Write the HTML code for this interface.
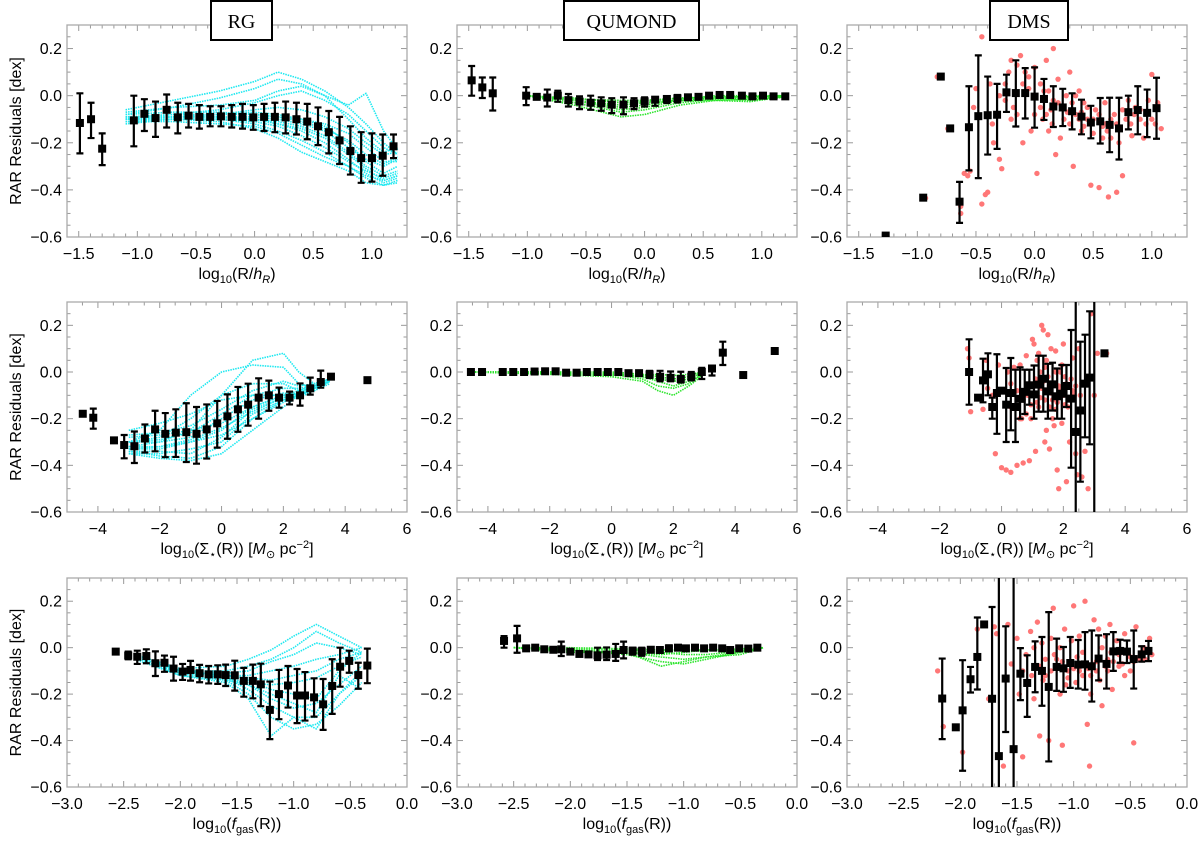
<!DOCTYPE html>
<html><head><meta charset="utf-8"><style>
html,body{margin:0;padding:0;background:#fff}
svg{display:block;font-family:"Liberation Sans",sans-serif}
</style></head><body>
<svg id="fig" width="1200" height="845" viewBox="0 0 1200 845" xmlns="http://www.w3.org/2000/svg"></svg>
<script>
// ---------- DATA ----------
// Row 1: log10(R/hR)
const rgRX=[-1.49,-1.395,-1.30,-1.03,-0.94,-0.845,-0.75,-0.655,-0.563,-0.471,-0.379,-0.287,-0.195,-0.103,-0.011,0.081,0.173,0.265,0.357,0.449,0.541,0.633,0.725,0.817,0.909,1.001,1.093,1.185];
const rgRY=[-0.116,-0.10,-0.225,-0.105,-0.077,-0.095,-0.06,-0.092,-0.085,-0.09,-0.09,-0.088,-0.09,-0.09,-0.092,-0.09,-0.09,-0.092,-0.10,-0.11,-0.13,-0.155,-0.19,-0.235,-0.265,-0.265,-0.255,-0.215];
const rgRHi=[0.01,-0.03,-0.16,0.0,-0.015,-0.025,0.005,-0.03,-0.035,-0.04,-0.045,-0.045,-0.04,-0.035,-0.04,-0.035,-0.03,-0.025,-0.03,-0.035,-0.05,-0.065,-0.09,-0.13,-0.155,-0.16,-0.165,-0.165];
const rgRLo=[-0.245,-0.18,-0.295,-0.215,-0.15,-0.175,-0.135,-0.16,-0.135,-0.14,-0.13,-0.13,-0.135,-0.14,-0.145,-0.15,-0.155,-0.16,-0.165,-0.185,-0.21,-0.245,-0.29,-0.335,-0.37,-0.365,-0.34,-0.265];
const rgRCurveX=[-1.1,-0.7,-0.3,0,0.2,0.4,0.6,0.8,0.95,1.1,1.22];
const rgRCurves=[
[-0.06,-0.02,0.02,0.06,0.1,0.07,0.02,-0.05,-0.12,-0.2,-0.25],
[-0.08,-0.05,-0.01,0.03,0.07,0.05,0.0,-0.04,0.01,-0.15,-0.23],
[-0.1,-0.08,-0.06,-0.03,0.0,0.02,-0.02,-0.08,-0.15,-0.22,-0.25],
[-0.1,-0.09,-0.08,-0.07,-0.08,-0.1,-0.13,-0.2,-0.28,-0.33,-0.3],
[-0.12,-0.1,-0.1,-0.1,-0.12,-0.15,-0.2,-0.27,-0.33,-0.37,-0.35],
[-0.1,-0.1,-0.11,-0.14,-0.18,-0.24,-0.28,-0.32,-0.37,-0.38,-0.36],
[-0.09,-0.09,-0.09,-0.1,-0.11,-0.13,-0.17,-0.24,-0.3,-0.34,-0.32],
[-0.11,-0.1,-0.1,-0.12,-0.15,-0.19,-0.24,-0.3,-0.35,-0.38,-0.37],
[-0.08,-0.07,-0.07,-0.08,-0.09,-0.1,-0.12,-0.16,-0.22,-0.28,-0.28],
[-0.1,-0.09,-0.09,-0.09,-0.1,-0.12,-0.15,-0.22,-0.27,-0.3,-0.27],
[-0.09,-0.08,-0.08,-0.08,-0.09,-0.11,-0.14,-0.19,-0.25,-0.29,-0.26],
[-0.1,-0.1,-0.1,-0.11,-0.13,-0.17,-0.22,-0.28,-0.32,-0.35,-0.33],
[-0.09,-0.09,-0.08,-0.06,-0.05,-0.06,-0.09,-0.14,-0.2,-0.25,-0.24],
[-0.11,-0.11,-0.12,-0.13,-0.16,-0.21,-0.26,-0.3,-0.34,-0.36,-0.34],
[-0.07,-0.05,-0.04,-0.02,0.02,0.04,0.0,-0.1,-0.18,-0.24,-0.22],
[-0.1,-0.09,-0.09,-0.1,-0.12,-0.14,-0.18,-0.25,-0.31,-0.36,-0.34]];
const quRX=[-1.475,-1.384,-1.295,-1.01,-0.92,-0.83,-0.74,-0.65,-0.555,-0.46,-0.37,-0.28,-0.18,-0.09,0.0,0.09,0.19,0.28,0.37,0.46,0.55,0.64,0.73,0.83,0.92,1.01,1.1,1.2];
const quRY=[0.065,0.035,0.01,0.0,-0.005,-0.008,0.0,-0.019,-0.025,-0.03,-0.033,-0.038,-0.038,-0.033,-0.024,-0.017,-0.014,-0.011,-0.007,-0.005,0,0.003,0.003,0,-0.003,0,-0.003,-0.003];
const quRHi=[0.126,0.077,0.077,0.036,-0.005,0.026,0.021,0.007,-0.003,0.0,-0.007,-0.011,-0.007,-0.011,-0.007,-0.007,-0.003,0.003,-0.007,-0.005,0,0.003,0.003,0,-0.003,0,-0.003,-0.003];
const quRLo=[0.0,-0.01,-0.063,-0.04,-0.005,-0.046,-0.026,-0.046,-0.057,-0.06,-0.064,-0.074,-0.079,-0.057,-0.046,-0.043,-0.031,-0.029,-0.007,-0.005,0,0.003,0.003,0,-0.003,0,-0.003,-0.003];
const quRCurveX=[-1.0,-0.6,-0.2,0,0.3,0.6,0.9,1.2];
const quRCurves=[[0,-0.02,-0.05,-0.04,-0.015,0,0,0],[0,-0.03,-0.07,-0.06,-0.03,-0.015,-0.01,0],[0,-0.02,-0.04,-0.03,-0.02,-0.02,-0.025,-0.005],[0,-0.01,-0.03,-0.025,-0.01,-0.005,-0.005,0],[0,-0.04,-0.09,-0.08,-0.04,-0.02,-0.015,-0.005],[0,-0.015,-0.02,-0.02,-0.01,-0.01,-0.02,-0.005],[0,-0.02,-0.06,-0.05,-0.02,-0.01,-0.005,0]];
const dmRX=[-1.27,-0.95,-0.80,-0.72,-0.64,-0.56,-0.48,-0.40,-0.32,-0.24,-0.16,-0.08,0.0,0.08,0.16,0.24,0.32,0.40,0.48,0.56,0.64,0.72,0.80,0.88,0.96,1.04];
const dmRY=[-0.594,-0.433,0.081,-0.139,-0.45,-0.134,-0.087,-0.083,-0.081,0.014,0.011,0.011,-0.004,-0.014,-0.046,-0.05,-0.066,-0.089,-0.114,-0.109,-0.124,-0.139,-0.07,-0.061,-0.073,-0.053];
const dmRHi=[-0.594,-0.433,0.081,-0.139,-0.366,0.04,0.171,0.081,0.05,0.089,0.15,0.117,0.12,0.071,0.04,0.029,0.01,-0.017,-0.043,-0.01,-0.009,-0.009,-0.0,0.04,0.026,0.076];
const dmRLo=[-0.594,-0.433,0.081,-0.139,-0.54,-0.317,-0.35,-0.25,-0.226,-0.069,-0.131,-0.097,-0.136,-0.103,-0.133,-0.129,-0.143,-0.164,-0.181,-0.203,-0.24,-0.271,-0.143,-0.164,-0.176,-0.183];
const dmRPts=[[-0.83,0.08],[-0.74,-0.14],[-0.93,-0.435],[-0.63,-0.47],[-0.63,-0.5],[-0.6,-0.33],[-0.57,-0.34],[-0.55,-0.32],[-0.52,-0.05],[-0.5,0.03],[-0.45,-0.46],[-0.42,-0.42],[-0.4,-0.41],[-0.38,0.05],[-0.36,-0.12],[-0.35,-0.2],[-0.3,-0.27],[-0.28,-0.31],[-0.25,0.05],[-0.22,0.1],[-0.2,0.15],[-0.18,-0.05],[-0.15,0.13],[-0.12,0.17],[-0.1,-0.2],[-0.08,0.1],[-0.05,0.03],[-0.03,-0.15],[0.0,0.12],[0.02,-0.33],[0.05,0.05],[0.07,-0.1],[0.1,0.15],[0.12,0.02],[0.14,-0.06],[0.16,0.2],[0.18,-0.25],[0.2,0.07],[0.22,-0.18],[0.25,-0.05],[0.27,0.0],[0.3,0.1],[0.3,-0.12],[0.33,-0.3],[0.35,-0.08],[0.38,0.02],[0.4,-0.15],[0.42,-0.03],[0.45,-0.1],[0.48,-0.38],[0.5,-0.16],[0.52,-0.06],[0.55,-0.39],[0.58,-0.13],[0.6,-0.03],[0.63,-0.43],[0.65,-0.18],[0.68,-0.08],[0.7,-0.41],[0.72,-0.2],[0.75,-0.34],[0.78,-0.1],[0.8,-0.02],[0.83,-0.17],[0.86,-0.05],[0.9,-0.1],[0.93,-0.18],[0.97,-0.02],[1.0,0.09],[1.03,-0.12],[1.08,-0.14],[-0.45,0.25],[0.16,-0.02],[0.1,-0.08],[0.35,0.0],[0.45,-0.05],[0.25,-0.1],[-0.15,-0.08],[0.05,-0.05],[0.6,-0.12],[0.0,0.0],[0.2,-0.03],[0.4,-0.07],[-0.3,0.0],[-0.2,-0.1],[0.5,-0.1],[0.7,-0.12],[0.85,-0.08],[-0.1,0.05],[0.0,-0.08],[0.15,-0.12],[0.28,-0.07],[0.42,-0.13],[0.55,-0.08],[0.65,-0.1],[0.75,-0.06],[0.9,-0.06],[1.0,-0.1],[-0.05,0.08],[0.08,0.02],[0.32,-0.03],[0.48,-0.12],[0.62,-0.15],[0.95,-0.12],[-0.25,-0.02],[0.12,-0.15],[0.38,-0.1],[0.58,-0.18],[0.82,-0.12],[1.05,-0.03]];
// Row 2: log10 Sigma
const rgSX=[-4.49,-4.15,-3.48,-3.15,-2.82,-2.48,-2.15,-1.82,-1.48,-1.14,-0.81,-0.48,-0.14,0.19,0.53,0.86,1.2,1.53,1.86,2.2,2.54,2.87,3.21,3.54,4.72];
const rgSY=[-0.179,-0.196,-0.293,-0.313,-0.318,-0.285,-0.246,-0.265,-0.26,-0.258,-0.265,-0.246,-0.22,-0.19,-0.16,-0.14,-0.11,-0.10,-0.11,-0.11,-0.10,-0.07,-0.043,-0.02,-0.035];
const rgSHi=[-0.179,-0.157,-0.293,-0.27,-0.255,-0.225,-0.166,-0.176,-0.16,-0.134,-0.15,-0.139,-0.124,-0.096,-0.064,-0.05,-0.027,-0.037,-0.067,-0.084,-0.049,-0.024,0.006,-0.02,-0.035];
const rgSLo=[-0.179,-0.243,-0.293,-0.37,-0.39,-0.345,-0.34,-0.365,-0.364,-0.386,-0.393,-0.371,-0.324,-0.286,-0.256,-0.23,-0.2,-0.166,-0.153,-0.139,-0.144,-0.097,-0.067,-0.02,-0.035];
const rgSCurveX=[-3,-2,-1,0,1,2,2.5,3,3.5];
const rgSCurves=[[-0.33,-0.33,-0.3,-0.25,-0.15,-0.1,-0.08,-0.05,-0.03],[-0.3,-0.28,-0.2,-0.1,-0.05,-0.05,-0.08,-0.06,-0.03],[-0.3,-0.25,-0.1,0.0,0.03,0.02,-0.05,-0.07,-0.04],[-0.32,-0.3,-0.25,-0.1,0.05,0.08,0.0,-0.05,-0.03],[-0.35,-0.37,-0.38,-0.35,-0.25,-0.15,-0.1,-0.07,-0.04],[-0.34,-0.36,-0.37,-0.32,-0.2,-0.12,-0.1,-0.08,-0.04],[-0.3,-0.3,-0.28,-0.2,-0.12,-0.09,-0.1,-0.07,-0.04],[-0.25,-0.22,-0.18,-0.12,-0.1,-0.1,-0.11,-0.08,-0.05],[-0.28,-0.27,-0.25,-0.22,-0.15,-0.1,-0.09,-0.06,-0.04],[-0.35,-0.35,-0.33,-0.3,-0.18,-0.12,-0.1,-0.07,-0.04],[-0.32,-0.32,-0.3,-0.27,-0.2,-0.13,-0.1,-0.07,-0.04],[-0.3,-0.29,-0.26,-0.18,-0.1,-0.07,-0.07,-0.06,-0.03],[-0.34,-0.34,-0.35,-0.28,-0.16,-0.11,-0.09,-0.06,-0.04],[-0.27,-0.26,-0.23,-0.16,-0.08,-0.04,-0.06,-0.05,-0.03],[-0.33,-0.32,-0.29,-0.24,-0.17,-0.11,-0.09,-0.06,-0.03]];
const quSX=[-4.55,-4.19,-3.52,-3.18,-2.83,-2.49,-2.15,-1.81,-1.47,-1.13,-0.8,-0.45,-0.12,0.22,0.55,0.89,1.23,1.57,1.91,2.24,2.58,2.92,3.25,3.6,4.26,5.28];
const quSY=[0,0,0,0,0,0.002,0.003,0.003,-0.003,-0.003,0,0,0,0,-0.005,-0.005,-0.01,-0.02,-0.025,-0.03,-0.02,0.0,0.015,0.083,-0.013,0.09];
const quSHi=[0,0,0,0,0,0.002,0.003,0.003,-0.003,-0.003,0,0,0,0,-0.005,-0.005,0.005,0.005,0.002,0.001,0.0,0.018,0.026,0.13,-0.013,0.09];
const quSLo=[0,0,0,0,0,0.002,0.003,0.003,-0.003,-0.003,0,0,0,0,-0.005,-0.005,-0.026,-0.04,-0.04,-0.045,-0.036,-0.03,-0.015,0.03,-0.013,0.09];
const quSCurveX=[-4.5,-2,0,1,1.5,2,2.5,3];
const quSCurves=[[0,0,0,-0.01,-0.02,-0.03,-0.02,0],[0,0,-0.005,-0.02,-0.04,-0.06,-0.04,-0.01],[0,0,-0.01,-0.03,-0.06,-0.07,-0.05,0],[0,-0.003,-0.015,-0.015,-0.01,-0.015,-0.01,0],[0,-0.01,-0.02,-0.04,-0.08,-0.1,-0.06,-0.01],[0,-0.005,-0.01,-0.02,-0.03,-0.04,-0.03,0]];
const dmSX=[-1.05,-0.76,-0.6,-0.44,-0.3,-0.15,0.0,0.15,0.3,0.45,0.6,0.75,0.9,1.05,1.2,1.35,1.5,1.65,1.8,1.95,2.1,2.25,2.4,2.55,2.7,2.85,3.0,3.33];
const dmSY=[0,-0.11,-0.036,-0.01,-0.15,-0.09,-0.08,-0.14,-0.09,-0.15,-0.115,-0.085,-0.057,-0.096,-0.054,-0.029,-0.083,-0.053,-0.104,-0.093,-0.06,-0.114,-0.257,-0.165,-0.05,-0.024,-0.75,0.08];
const dmSHi=[0.14,-0.11,0.057,0.08,-0.11,0.076,-0.08,0.017,0.06,0.01,0.02,0.01,0.01,0.028,0.07,0.07,0.035,0.04,0.015,0.03,0.03,0.18,0.5,0.13,0.16,0.26,0.5,0.08];
const dmSLo=[-0.14,-0.11,-0.13,-0.1,-0.2,-0.265,-0.08,-0.3,-0.25,-0.3,-0.2,-0.18,-0.14,-0.2,-0.17,-0.17,-0.2,-0.165,-0.2,-0.2,-0.15,-0.41,-0.9,-0.47,-0.28,-0.31,-0.9,0.08];
const dmSPts=[[-1.1,0.1],[-1.05,0.06],[-1.0,-0.17],[-0.6,-0.16],[-0.5,0.05],[-0.45,-0.07],[-0.3,-0.1],[-0.2,-0.35],[-0.1,0.03],[0.0,-0.41],[0.15,-0.42],[0.3,-0.43],[0.2,-0.0],[0.3,-0.05],[0.4,0.02],[0.5,-0.4],[0.6,0.03],[0.65,-0.2],[0.7,-0.39],[0.8,0.07],[0.9,-0.38],[0.95,-0.2],[1.0,0.14],[1.05,0.12],[1.1,-0.34],[1.2,0.08],[1.3,0.2],[1.35,0.18],[1.4,-0.3],[1.45,-0.25],[1.5,0.16],[1.55,-0.33],[1.6,0.1],[1.65,-0.2],[1.7,-0.23],[1.75,0.09],[1.8,-0.42],[1.85,-0.5],[1.9,0.0],[1.95,-0.22],[2.0,0.12],[2.1,-0.47],[2.2,-0.3],[2.3,0.06],[2.4,-0.35],[2.45,-0.44],[2.5,0.1],[2.55,-0.1],[2.6,-0.45],[2.7,-0.34],[2.8,-0.5],[2.9,0.25],[3.0,-0.1],[3.1,0.08],[3.4,0.08],[0.5,-0.08],[0.7,-0.12],[0.9,-0.05],[1.0,-0.1],[1.1,-0.03],[1.2,-0.15],[1.3,-0.07],[1.4,-0.12],[1.5,-0.02],[1.6,-0.09],[1.7,-0.05],[1.8,-0.13],[1.9,-0.08],[2.0,-0.1],[2.1,-0.05],[2.2,-0.12],[2.3,-0.08],[0.8,-0.18],[1.25,0.0],[1.45,0.05],[1.95,0.03],[2.15,-0.15],[0.3,-0.15],[0.6,-0.2],[1.15,0.05],[1.55,-0.15],[1.75,0.0],[2.05,-0.02],[2.35,-0.1],[2.6,-0.05],[0.85,-0.1],[1.05,-0.06],[1.25,-0.11],[1.35,-0.04],[1.65,-0.12],[1.85,-0.06],[2.05,-0.14],[2.25,-0.03],[1.15,-0.13],[1.55,-0.06],[1.75,-0.16],[1.95,-0.1],[0.95,-0.14],[1.4,0.02],[2.4,-0.06]];
// Row 3: log10 fgas
const rgFX=[-2.57,-2.46,-2.38,-2.3,-2.22,-2.14,-2.06,-1.98,-1.91,-1.83,-1.75,-1.67,-1.6,-1.52,-1.44,-1.36,-1.29,-1.21,-1.13,-1.05,-0.97,-0.9,-0.82,-0.74,-0.66,-0.59,-0.51,-0.43,-0.35];
const rgFY=[-0.017,-0.034,-0.039,-0.036,-0.067,-0.065,-0.09,-0.103,-0.096,-0.11,-0.115,-0.115,-0.118,-0.119,-0.143,-0.143,-0.158,-0.268,-0.2,-0.163,-0.206,-0.206,-0.214,-0.244,-0.165,-0.082,-0.057,-0.118,-0.077];
const rgFHi=[-0.017,-0.017,-0.013,-0.007,-0.016,-0.034,-0.039,-0.07,-0.057,-0.074,-0.079,-0.076,-0.073,-0.056,-0.087,-0.073,-0.069,-0.146,-0.096,-0.079,-0.092,-0.105,-0.132,-0.135,-0.05,0.0,-0.013,-0.065,-0.004];
const rgFLo=[-0.017,-0.05,-0.07,-0.067,-0.122,-0.104,-0.142,-0.139,-0.142,-0.149,-0.154,-0.156,-0.165,-0.185,-0.211,-0.218,-0.252,-0.394,-0.308,-0.258,-0.325,-0.314,-0.297,-0.354,-0.285,-0.168,-0.108,-0.177,-0.153];
const rgFCurveX=[-2.4,-2.0,-1.6,-1.4,-1.2,-1.0,-0.8,-0.6,-0.4];
const rgFCurves=[[-0.03,-0.09,-0.08,-0.05,-0.01,0.05,0.1,0.05,0.0],[-0.03,-0.1,-0.1,-0.08,-0.05,0.0,0.07,0.02,-0.02],[-0.03,-0.1,-0.12,-0.13,-0.14,-0.12,-0.1,-0.05,-0.02],[-0.04,-0.11,-0.13,-0.18,-0.25,-0.3,-0.3,-0.2,-0.1],[-0.04,-0.11,-0.14,-0.2,-0.3,-0.35,-0.33,-0.25,-0.15],[-0.04,-0.12,-0.15,-0.22,-0.38,-0.3,-0.35,-0.2,-0.12],[-0.04,-0.1,-0.12,-0.14,-0.18,-0.2,-0.22,-0.1,-0.02],[-0.03,-0.1,-0.12,-0.12,-0.1,-0.08,-0.05,-0.03,0.0],[-0.05,-0.12,-0.14,-0.16,-0.2,-0.24,-0.28,-0.12,-0.18],[-0.04,-0.1,-0.13,-0.15,-0.16,-0.15,-0.13,-0.08,-0.04],[-0.04,-0.11,-0.13,-0.16,-0.22,-0.26,-0.24,-0.16,-0.08],[-0.03,-0.1,-0.11,-0.1,-0.06,-0.03,0.02,0.0,-0.03]];
const quFX=[-2.585,-2.47,-2.39,-2.31,-2.23,-2.15,-2.08,-2.0,-1.92,-1.84,-1.76,-1.68,-1.6,-1.53,-1.45,-1.37,-1.29,-1.21,-1.13,-1.05,-0.98,-0.9,-0.82,-0.74,-0.66,-0.59,-0.51,-0.43,-0.35];
const quFY=[0.029,0.04,-0.003,0.0,-0.007,-0.009,-0.007,-0.017,-0.027,-0.029,-0.033,-0.03,-0.027,-0.01,-0.013,-0.016,-0.009,-0.01,-0.003,0.0,-0.003,0,-0.003,0,-0.003,-0.01,-0.003,-0.004,0];
const quFHi=[0.05,0.094,-0.003,0.0,-0.007,-0.009,0.026,-0.017,-0.027,-0.029,-0.0,0.001,0.016,0.026,0.0,0.0,0.0,-0.01,0.01,0.0,-0.003,0,-0.003,0,0.0,-0.01,-0.003,-0.004,0];
const quFLo=[0.0,-0.022,-0.003,0.0,-0.007,-0.009,-0.036,-0.017,-0.027,-0.029,-0.053,-0.053,-0.057,-0.046,-0.03,-0.035,-0.02,-0.01,-0.015,0.0,-0.003,0,-0.003,0,-0.01,-0.01,-0.003,-0.004,0];
const quFCurveX=[-2.5,-2.0,-1.5,-1.2,-1.0,-0.8,-0.5,-0.3];
const quFCurves=[[0,-0.01,-0.02,-0.03,-0.02,-0.01,-0.005,0],[0,-0.01,-0.03,-0.06,-0.07,-0.05,-0.02,0],[0,-0.02,-0.02,-0.04,-0.05,-0.04,-0.03,0],[0,0,-0.005,-0.01,-0.01,-0.01,-0.01,0],[0,-0.01,-0.02,-0.08,-0.06,-0.04,-0.02,0],[0,-0.005,-0.01,-0.02,-0.03,-0.03,-0.015,0]];
const dmFX=[-2.16,-2.04,-1.98,-1.91,-1.85,-1.79,-1.72,-1.66,-1.6,-1.53,-1.47,-1.41,-1.34,-1.28,-1.22,-1.15,-1.09,-1.03,-0.96,-0.9,-0.84,-0.78,-0.71,-0.65,-0.59,-0.53,-0.47,-0.4,-0.34];
const dmFY=[-0.219,-0.343,-0.27,-0.136,-0.04,0.1,-0.22,-0.467,-0.133,-0.437,-0.112,-0.152,-0.083,-0.1,-0.169,-0.083,-0.089,-0.066,-0.073,-0.072,-0.08,-0.047,-0.07,-0.016,-0.014,-0.017,-0.049,-0.029,-0.014];
const dmFHi=[-0.047,-0.343,-0.054,-0.083,0.13,0.1,0.175,0.5,0.092,0.5,-0.002,-0.033,0.027,0.046,0.153,0.039,0.003,0.046,0.033,0.067,0.074,0.053,0.058,0.067,0.034,0.031,0.074,0.006,0.029];
const dmFLo=[-0.394,-0.343,-0.53,-0.193,-0.18,0.1,-0.9,-0.9,-0.363,-0.9,-0.226,-0.298,-0.192,-0.25,-0.49,-0.186,-0.19,-0.173,-0.176,-0.181,-0.232,-0.141,-0.176,-0.1,-0.065,-0.066,-0.176,-0.06,-0.058];
const dmFPts=[[-2.2,-0.1],[-2.15,-0.34],[-1.98,-0.45],[-1.85,0.08],[-1.75,-0.22],[-1.7,0.09],[-1.68,0.06],[-1.62,-0.51],[-1.58,0.1],[-1.55,-0.07],[-1.5,0.04],[-1.48,-0.2],[-1.45,-0.47],[-1.42,-0.03],[-1.4,-0.15],[-1.38,0.07],[-1.35,-0.22],[-1.32,0.11],[-1.3,-0.38],[-1.28,0.02],[-1.25,-0.12],[-1.22,-0.4],[-1.2,0.04],[-1.18,0.17],[-1.15,-0.05],[-1.12,-0.2],[-1.1,-0.42],[-1.08,0.08],[-1.05,-0.1],[-1.02,0.03],[-1.0,0.18],[-0.98,-0.15],[-0.95,0.05],[-0.92,-0.02],[-0.9,0.2],[-0.88,-0.33],[-0.86,-0.51],[-0.85,-0.2],[-0.82,0.12],[-0.8,-0.1],[-0.78,0.08],[-0.75,-0.25],[-0.72,0.05],[-0.7,-0.05],[-0.68,0.1],[-0.66,-0.18],[-0.62,0.03],[-0.6,-0.08],[-0.55,0.06],[-0.5,-0.1],[-0.47,-0.41],[-0.45,0.09],[-0.42,-0.05],[-0.38,0.0],[-0.33,0.04],[-0.31,-0.03],[-1.3,-0.08],[-1.2,-0.1],[-1.1,-0.06],[-1.0,-0.09],[-0.9,-0.07],[-0.8,-0.06],[-0.7,-0.1],[-0.6,-0.03],[-0.5,-0.04],[-1.25,-0.05],[-1.05,-0.13],[-0.85,-0.12],[-0.65,-0.06],[-0.95,-0.1],[-1.15,-0.08],[-0.4,-0.02],[-1.35,0.0],[-0.75,0.0],[-0.55,-0.12],[-1.45,-0.1],[-1.27,-0.14],[-1.17,-0.03],[-1.07,-0.16],[-0.97,-0.04],[-0.87,-0.09],[-0.77,-0.14],[-0.67,-0.02],[-0.57,-0.07],[-0.47,-0.06],[-0.37,-0.05],[-1.37,-0.12],[-1.12,0.0],[-0.92,-0.12],[-0.72,-0.08]];
const xTicksR=[-1.5,-1.0,-0.5,0.0,0.5,1.0];
const xTicksS=[-4,-2,0,2,4,6];
const xTicksF=[-3.0,-2.5,-2.0,-1.5,-1.0,-0.5,0.0];
const yTicks=[-0.6,-0.4,-0.2,0.0,0.2];

// ---------- DRAWING ----------
const svg=document.getElementById('fig');
const NS='http://www.w3.org/2000/svg';
function mk(tag,attrs,parent){const e=document.createElementNS(NS,tag);for(const k in attrs)e.setAttribute(k,attrs[k]);(parent||svg).appendChild(e);return e;}
const colL=[67,457,847];
const rowT=[25,302,578], rowB=[237,512,787];
const xDom=[[-1.6,1.3],[-5,6],[-3,0]];
const xMinor=[0.1,0.5,0.1];
const xTicksAll=[xTicksR,xTicksS,xTicksF];
const xDec=[1,0,1];
const xTitles=['log<tspan font-size="11" dy="4">10</tspan><tspan dy="-4">(R/</tspan><tspan font-style="italic">h</tspan><tspan font-size="11" font-style="italic" dy="4">R</tspan><tspan dy="-4">)</tspan>',
 'log<tspan font-size="11" dy="4">10</tspan><tspan dy="-4">(Σ</tspan><tspan font-size="11" dy="4">⋆</tspan><tspan dy="-4">(R)) [</tspan><tspan font-style="italic">M</tspan><tspan font-size="11" dy="4">⊙</tspan><tspan dy="-4"> pc</tspan><tspan font-size="11" dy="-6">−2</tspan><tspan dy="6">]</tspan>',
 'log<tspan font-size="11" dy="4">10</tspan><tspan dy="-4">(</tspan><tspan font-style="italic">f</tspan><tspan font-size="11" dy="4">gas</tspan><tspan dy="-4">(R))</tspan>'];
function fmt(v,d){const s=Math.abs(v).toFixed(d);return (v<-1e-9?'−':'')+s;}

function panel(r,c){
  const L=colL[c],R=L+340,T=rowT[r],B=rowB[r];
  const d=xDom[r];
  const sx=v=>L+(v-d[0])/(d[1]-d[0])*340;
  const sy=v=>B-(v+0.6)/0.9*(B-T);
  const g=mk('g',{});
  
  
  const defs=mk('clipPath',{id:'cp'+r+c},g);mk('rect',{x:L,y:T,width:340,height:B-T},defs);
  const tk=mk('g',{stroke:'#999','stroke-width':1},g);
  for(let v=-0.6;v<=0.3001;v+=0.05){const y=sy(v);const maj=Math.abs(Math.round(v*5)-v*5)<1e-6;const len=maj?6:3.5;
    mk('line',{x1:L,x2:L+len,y1:y,y2:y},tk);mk('line',{x1:R,x2:R-len,y1:y,y2:y},tk);}
  const st=xMinor[r];
  for(let v=Math.ceil(d[0]/st-1e-9)*st;v<=d[1]+1e-9;v+=st){const x=sx(v);const maj=xTicksAll[r].some(t=>Math.abs(t-v)<1e-6);const len=maj?6:3.5;
    mk('line',{x1:x,x2:x,y1:B,y2:B-len},tk);mk('line',{x1:x,x2:x,y1:T,y2:T+len},tk);}
  const fr=mk('rect',{x:L,y:T,width:340,height:B-T,fill:'none',stroke:'#aaa','stroke-width':1.3},g);
  
  
  yTicks.forEach(v=>{const t=mk('text',{x:L-5,y:sy(v)+5.5,'text-anchor':'end','font-size':16},g);t.textContent=fmt(v,1);
    
    });
  xTicksAll[r].forEach(v=>{const t=mk('text',{x:sx(v),y:B+22,'text-anchor':'middle','font-size':16},g);t.textContent=fmt(v,xDec[r]);
    
    });
  const xt=mk('text',{x:L+170,y:B+42,'text-anchor':'middle','font-size':16},g);xt.innerHTML=xTitles[r];
  
  
  if(c===0){const yt=mk('text',{x:0,y:0,'text-anchor':'middle','font-size':16,transform:'translate(21,'+((T+B)/2)+') rotate(-90)'},g);yt.textContent='RAR Residuals [dex]';
    
    }
  return {g,sx,sy,clip:'url(#cp'+r+c+')'};
}
function curves(p,xs,cs,color,name){
  const cg=mk('g',{'clip-path':p.clip,fill:'none',stroke:color,'stroke-width':1.6,'stroke-dasharray':'1.5 1','stroke-linejoin':'round'},p.g);
  cs.forEach(ys=>{const pts=xs.map((x,i)=>p.sx(x).toFixed(1)+','+p.sy(ys[i]).toFixed(1)).join(' ');
    const pl=mk('polyline',{points:pts},cg);
    
    });
}
function dots(p,pts,name){
  const dg=mk('g',{'clip-path':p.clip,fill:'#f77'},p.g);
  pts.forEach(q=>{const c=mk('circle',{cx:p.sx(q[0]),cy:p.sy(q[1]),r:2.7},dg);
    
    });
}
function bins(p,xs,ys,hi,lo,name){
  const bg=mk('g',{'clip-path':p.clip},p.g);
  xs.forEach((x,i)=>{const X=p.sx(x);
    if(Math.abs(hi[i]-lo[i])>0.004){const yh=p.sy(hi[i]),yl=p.sy(lo[i]);
      const e=mk('path',{d:`M${X},${yh}V${yl}M${X-3.5},${yh}H${X+3.5}M${X-3.5},${yl}H${X+3.5}`,stroke:'#000','stroke-width':2.2,fill:'none'},bg);
      
      }
    const s=mk('rect',{x:X-4,y:p.sy(ys[i])-4,width:8,height:8,fill:'#000'},bg);
    
    });
}
const CY='#1ee8f0', GR='#2be52b';
let p;
p=panel(0,0);curves(p,rgRCurveX,rgRCurves,CY,'rg-curve');bins(p,rgRX,rgRY,rgRHi,rgRLo,'rg-bin');
p=panel(0,1);curves(p,quRCurveX,quRCurves,GR,'qumond-curve');bins(p,quRX,quRY,quRHi,quRLo,'qumond-bin');
p=panel(0,2);dots(p,dmRPts,'dms-point');bins(p,dmRX,dmRY,dmRHi,dmRLo,'dms-bin');
p=panel(1,0);curves(p,rgSCurveX,rgSCurves,CY,'rg-curve');bins(p,rgSX,rgSY,rgSHi,rgSLo,'rg-bin');
p=panel(1,1);curves(p,quSCurveX,quSCurves,GR,'qumond-curve');bins(p,quSX,quSY,quSHi,quSLo,'qumond-bin');
p=panel(1,2);dots(p,dmSPts,'dms-point');bins(p,dmSX,dmSY,dmSHi,dmSLo,'dms-bin');
p=panel(2,0);curves(p,rgFCurveX,rgFCurves,CY,'rg-curve');bins(p,rgFX,rgFY,rgFHi,rgFLo,'rg-bin');
p=panel(2,1);curves(p,quFCurveX,quFCurves,GR,'qumond-curve');bins(p,quFX,quFY,quFHi,quFLo,'qumond-bin');
p=panel(2,2);dots(p,dmFPts,'dms-point');bins(p,dmFX,dmFY,dmFHi,dmFLo,'dms-bin');
[['RG',211,272],['QUMOND',564,699],['DMS',990,1068]].forEach(b=>{
  const g=mk('g',{});
  
  
  mk('rect',{x:b[1],y:1,width:b[2]-b[1],height:39,fill:'#fff',stroke:'#000','stroke-width':2},g);
  const t=mk('text',{x:(b[1]+b[2])/2,y:28,'text-anchor':'middle','font-size':20,'font-family':'"Liberation Serif",serif'},g);t.textContent=b[0];
});
</script>
</body></html>
